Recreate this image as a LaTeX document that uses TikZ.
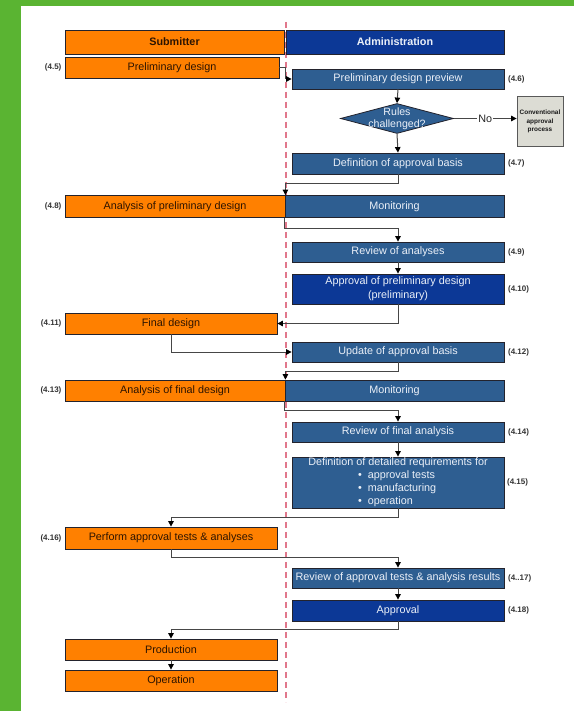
\documentclass[tikz,border=0pt]{standalone}
\usepackage{fontspec}
\setmainfont{Liberation Sans}
\usetikzlibrary{shapes.geometric,arrows.meta,positioning}
\definecolor{gbg}{RGB}{90,180,50}
\definecolor{org}{RGB}{255,128,0}
\definecolor{steel}{RGB}{46,94,145}
\definecolor{navy}{RGB}{12,56,150}
\definecolor{edge}{RGB}{35,35,45}
\definecolor{conng}{RGB}{70,70,70}
\definecolor{dashred}{RGB}{225,120,140}
\definecolor{capfill}{RGB}{220,220,212}
\definecolor{otext}{RGB}{45,20,0}
\definecolor{btext}{RGB}{235,240,248}
\begin{document}
\begin{tikzpicture}[x=1pt,y=-1pt,
 base/.style={draw=edge, line width=0.8pt, inner sep=1pt, font=\fontsize{10.8}{13}\selectfont},
 obox/.style={base, fill=org, text=otext},
 sbox/.style={base, fill=steel, text=btext},
 nbox/.style={base, fill=navy, text=btext},
 lab/.style={font=\bfseries\fontsize{8}{9}\selectfont, text=black!80, inner sep=0pt},
 conn/.style={draw=conng, line width=1pt, -{Triangle[length=5.5pt,width=5.5pt,color=black]}},
 hdr/.style={font=\bfseries\fontsize{10.8}{13}\selectfont},
]
\fill[gbg] (0,0) rectangle (574,711);
\fill[white] (21,6) rectangle (574,711);
\useasboundingbox (0,0) rectangle (574,711);

\coordinate (dtop) at (286,22);
\coordinate (dbot) at (286,702);
\draw[dashred, line width=1.1pt, dash pattern=on 6pt off 4pt] (dtop) -- (dbot);

% headers
\node[obox, hdr, minimum width=219pt, minimum height=24pt] (sub) at (174.5,42) {Submitter};
\node[nbox, hdr, minimum width=218pt, minimum height=24pt] (adm) at (395,42) {Administration};

% left column
\node[obox, minimum width=214pt, minimum height=21pt] (pd) at (172,67.5) {Preliminary design};
\node[obox, minimum width=220pt, minimum height=22pt] (apd) at (175,206.5) {Analysis of preliminary design};
\node[obox, minimum width=212pt, minimum height=21pt] (fd) at (171,323.5) {Final design};
\node[obox, minimum width=220pt, minimum height=21pt] (afd) at (175,390.5) {Analysis of final design};
\node[obox, minimum width=212pt, minimum height=22pt] (pat) at (171,538) {Perform approval tests \& analyses};
\node[obox, minimum width=212pt, minimum height=21pt] (prod) at (171,649.5) {Production};
\node[obox, minimum width=212pt, minimum height=21pt] (op) at (171,680.5) {Operation};

% right column
\node[sbox, minimum width=212pt, minimum height=20pt] (pdp) at (398,79) {Preliminary design preview};
\node[diamond, draw=edge, line width=0.8pt, fill=steel, minimum width=113pt, minimum height=30pt, inner sep=0pt] (rc) at (397,118.5) {};
\node[text=btext, align=center, font=\fontsize{10.6}{12}\selectfont, inner sep=0pt] (rct) at (rc.center) {Rules\\challenged?};
\node[draw=black!65, line width=0.8pt, fill=capfill, minimum width=46pt, minimum height=50pt, inner sep=0pt, align=center, font=\bfseries\fontsize{6.4}{8.5}\selectfont, text=black!90] (cap) at (540,121.5) {Conventional\\approval\\process};
\node[sbox, minimum width=212pt, minimum height=21pt] (dab) at (398,163.5) {Definition of approval basis};
\node[sbox, minimum width=219pt, minimum height=22pt] (mon1) at (394.5,206.5) {Monitoring};
\node[sbox, minimum width=212pt, minimum height=20pt] (roa) at (398,252) {Review of analyses};
\node[nbox, minimum width=212pt, minimum height=30pt, align=center, font=\fontsize{10.8}{14}\selectfont] (apv1) at (398,289) {Approval of preliminary design\\(preliminary)};
\node[sbox, minimum width=212pt, minimum height=20pt] (uab) at (398,352) {Update of approval basis};
\node[sbox, minimum width=219pt, minimum height=21pt] (mon2) at (394.5,390.5) {Monitoring};
\node[sbox, minimum width=212pt, minimum height=20pt] (rfa) at (398,432) {Review of final analysis};
\node[sbox, minimum width=212pt, minimum height=51pt, align=center] (ddr) at (398,482.5) {Definition of detailed requirements for\\
\makebox[80pt][l]{•\hspace{6pt}approval tests}\\
\makebox[80pt][l]{•\hspace{6pt}manufacturing}\\
\makebox[80pt][l]{•\hspace{6pt}operation}};
\node[sbox, minimum width=212pt, minimum height=20pt] (rat) at (398,578) {Review of approval tests \& analysis results};
\node[nbox, minimum width=212pt, minimum height=21pt] (apv2) at (398,610.5) {Approval};

% labels
\node[lab, left=3pt of pd] (l45) {(4.5)};
\node[lab, right=3.5pt of pdp] (l46) {(4.6)};
\node[lab, right=3.5pt of dab] (l47) {(4.7)};
\node[lab, left=3pt of apd] (l48) {(4.8)};
\node[lab, right=3.5pt of roa] (l49) {(4.9)};
\node[lab, right=3.5pt of apv1] (l410) {(4.10)};
\node[lab, left=3pt of fd] (l411) {(4.11)};
\node[lab, right=3.5pt of uab] (l412) {(4.12)};
\node[lab, left=3pt of afd] (l413) {(4.13)};
\node[lab, right=3.5pt of rfa] (l414) {(4.14)};
\node[lab, right=2.5pt of ddr] (l415) {(4.15)};
\node[lab, left=3pt of pat] (l416) {(4.16)};
\node[lab, right=3.5pt of rat] (l417) {(4..17)};
\node[lab, right=3.5pt of apv2] (l418) {(4.18)};

% connectors
\draw[conn] (pd.east) -- ++(6,0) |- (pdp.west);
\draw[conn] (pdp.south) -- (rc.north);
\draw[conn] (rc.south) -- (dab.north);
\draw[conn] (rc.east) -- node[fill=white, inner sep=1pt, font=\fontsize{10.8}{12}\selectfont, text=black!85] (no) {No} (cap.west |- rc.east);
\draw[conn] (dab.south) -- ++(0,9.5) -| (apd.north east);
\draw[conn] (mon1.south west) -- ++(0,10.5) -| (roa.north);
\draw[conn] (roa.south) -- (apv1.north);
\draw[conn] (apv1.south) |- (fd.east);
\draw[conn] (fd.south) |- (uab.west);
\draw[conn] (uab.south) -- ++(0,9) -| (afd.north east);
\draw[conn] (mon2.south west) -- ++(0,9.5) -| (rfa.north);
\draw[conn] (rfa.south) -- (ddr.north);
\draw[conn] (ddr.south) -- ++(0,9) -| (pat.north);
\draw[conn] (pat.south) -- ++(0,8) -| (rat.north);
\draw[conn] (rat.south) -- (apv2.north);
\draw[conn] (apv2.south) -- ++(0,8.5) -| (prod.north);
\draw[conn] (prod.south) -- (op.north);
\end{tikzpicture}
\end{document}
